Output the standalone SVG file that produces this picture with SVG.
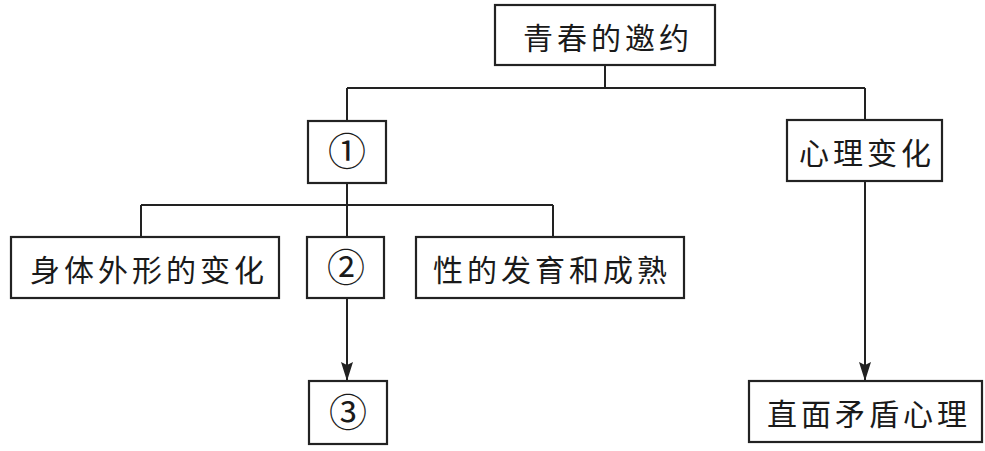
<svg xmlns="http://www.w3.org/2000/svg" width="985" height="451" viewBox="0 0 985 451">
<style>
.box{fill:#fff;stroke:#222;stroke-width:2.2}
.lbl{font-family:"Noto Sans CJK SC","Noto Sans CJK JP",sans-serif;font-size:30px;fill:#1a1a1a;letter-spacing:4px;text-anchor:middle;dominant-baseline:central}
.num{font-family:"DejaVu Serif","Noto Sans CJK SC",serif;font-size:38px;fill:#1a1a1a;text-anchor:middle;dominant-baseline:central}
.ln{fill:none;stroke:#222;stroke-width:2}
</style>
<defs>
<marker id="arrd" markerUnits="userSpaceOnUse" markerWidth="19" markerHeight="12" viewBox="0 0 19 12" refX="19" refY="6" orient="auto">
<path d="M0,0 L19,6 L0,12 L3,6 Z" fill="#222"/>
</marker>
</defs>
<g id="connectors">
<path class="ln" d="M605,65 V88 M347,88 H865 M347,88 V121 M865,88 V120"/>
<path class="ln" d="M347,183 V237 M141,205 H553 M141,205 V237 M553,205 V237"/>
<path class="ln" d="M347,298 V381" marker-end="url(#arrd)"/>
<path class="ln" d="M865,181 V381" marker-end="url(#arrd)"/>
</g>
<g id="n-top"><rect class="box" x="495" y="5" width="220" height="60"/><text class="lbl" x="608" y="36">青春的邀约</text></g>
<g id="n-1"><rect class="box" x="308" y="121" width="78" height="62"/><text class="num" x="347" y="152">①</text></g>
<g id="n-xinli"><rect class="box" x="787" y="120" width="155" height="61"/><text class="lbl" x="867" y="151">心理变化</text></g>
<g id="n-shenti"><rect class="box" x="11" y="237" width="268" height="61"/><text class="lbl" x="149" y="268">身体外形的变化</text></g>
<g id="n-2"><rect class="box" x="307" y="237" width="77" height="61"/><text class="num" x="346" y="268">②</text></g>
<g id="n-xing"><rect class="box" x="416" y="237" width="268" height="61"/><text class="lbl" x="552" y="268">性的发育和成熟</text></g>
<g id="n-3"><rect class="box" x="309" y="381" width="78" height="63"/><text class="num" x="348" y="413">③</text></g>
<g id="n-zhimian"><rect class="box" x="749" y="381" width="233" height="61"/><text class="lbl" x="869" y="412">直面矛盾心理</text></g>
</svg>
